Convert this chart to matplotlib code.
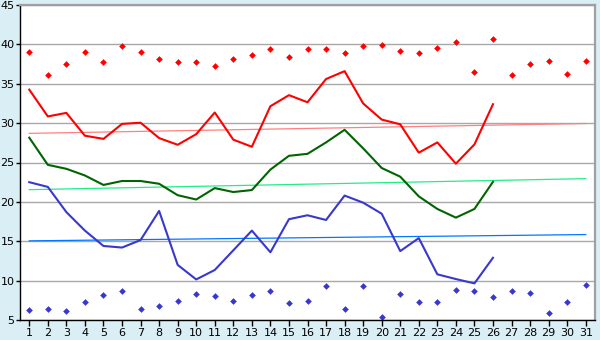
import matplotlib
matplotlib.use("Agg")
import matplotlib.pyplot as plt

# Datos del mes (dias 1-31)
dias = list(range(1, 32))
dias_linea = list(range(1, 27))

maximas = [39.0, 36.05, 37.45, 39.0, 37.8, 39.75, 39.0, 38.1, 37.8, 37.8,
           37.3, 38.1, 38.6, 39.35, 38.35, 39.35, 39.35, 38.85, 39.75, 39.9,
           39.2, 38.85, 39.6, 40.25, 36.55, 40.65, 36.05, 37.45, 37.95, 36.2,
           37.95]
minimas = [6.3, 6.4, 6.15, 7.3, 8.2, 8.7, 6.4, 6.8, 7.45, 8.3,
           8.05, 7.45, 8.2, 8.7, 7.2, 7.45, 9.35, 6.4, 9.35, 5.4,
           8.3, 7.3, 7.3, 8.85, 8.7, 7.95, 8.7, 8.45, 5.9, 7.3,
           9.45]

media_max = [34.25, 30.85, 31.3, 28.4, 28.0, 29.9, 30.05, 28.1, 27.25, 28.6,
             31.35, 27.9, 27.0, 32.15, 33.55, 32.65, 35.6, 36.6, 32.5, 30.45,
             29.85, 26.25, 27.55, 24.85, 27.3, 32.4]
media = [28.15, 24.7, 24.2, 23.35, 22.15, 22.65, 22.65, 22.3, 20.85, 20.3,
         21.75, 21.25, 21.5, 24.1, 25.85, 26.1, 27.55, 29.15, 26.8, 24.3,
         23.2, 20.7, 19.1, 18.0, 19.1, 22.55]
media_min = [22.5, 21.9, 18.7, 16.35, 14.4, 14.2, 15.15, 18.85, 12.0, 10.15,
             11.35, 13.85, 16.35, 13.6, 17.8, 18.3, 17.7, 20.8, 19.9, 18.5,
             13.75, 15.4, 10.8, 10.2, 9.65, 12.9]

# Tendencias (valor en el dia 1 y en el dia 31)
tend_dias = [1, 31]
tend_max = [28.7, 29.95]
tend_media = [21.55, 22.95]
tend_min = [15.05, 15.85]

FONDO = '#DAEEF5'

fig = plt.figure(figsize=(6, 3.4), dpi=100, facecolor=FONDO)
ax = fig.add_axes([20/600, 20/340, 575/600, 315/340])
ax.set_facecolor('white')

# Rejilla
ax.set_axisbelow(True)
ax.grid(True, axis='y', color='#A8A8A8', linewidth=1.0)

# Lineas de tendencia
ax.plot(tend_dias, tend_max, color='#FF8080', linewidth=0.9)
ax.plot(tend_dias, tend_media, color='#22EE88', linewidth=0.9)
ax.plot(tend_dias, tend_min, color='#0077FF', linewidth=0.9)

# Lineas principales
ax.plot(dias_linea, media_max, color='#FF0000', linewidth=1.5)
ax.plot(dias_linea, media, color='#006400', linewidth=1.5)
ax.plot(dias_linea, media_min, color='#3838CC', linewidth=1.5)

# Puntos de maximas y minimas
ax.plot(dias, maximas, linestyle='none', marker='D', markersize=3.4,
        color='#FF0000', markeredgewidth=0)
ax.plot(dias, minimas, linestyle='none', marker='D', markersize=3.4,
        color='#3838CC', markeredgewidth=0)

ax.set_xlim(0.5, 31.5)
ax.set_ylim(5, 45)
ax.set_xticks(dias)
ax.set_yticks(range(5, 46, 5))

ax.tick_params(axis='x', labelsize=8, length=4, width=1, color='black', pad=2)
ax.tick_params(axis='y', labelsize=8, length=3, width=1, color='black', pad=1)

for lado in ['top', 'right']:
    ax.spines[lado].set_color('#A0A0A0')
    ax.spines[lado].set_linewidth(1.6)
for lado in ['left', 'bottom']:
    ax.spines[lado].set_color('black')
    ax.spines[lado].set_linewidth(1.0)

plt.savefig('out.png', dpi=100, facecolor=FONDO)
plt.close()
